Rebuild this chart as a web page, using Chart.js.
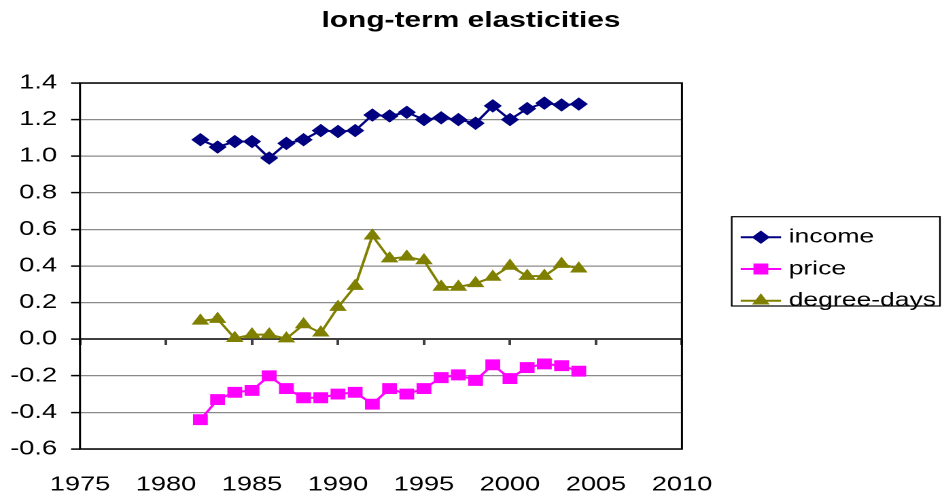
<!DOCTYPE html>
<html>
<head>
<meta charset="utf-8">
<script src="https://cdn.jsdelivr.net/npm/chart.js@4"></script>
<style>
  html, body { margin: 0; padding: 0; background: #fff; overflow: hidden; }
  /* the chart is laid out narrow and stretched sideways to its final width */
  #stage { width: 693px; height: 499px; transform: scaleX(1.3593); transform-origin: 0 0; }
</style>
</head>
<body>
<div id="stage"><canvas id="c"></canvas></div>
<script>
// Estimated long-term elasticities by year
const years      = [1982, 1983, 1984, 1985, 1986, 1987, 1988, 1989, 1990, 1991, 1992, 1993,
                    1994, 1995, 1996, 1997, 1998, 1999, 2000, 2001, 2002, 2003, 2004];
const income     = [1.09, 1.05, 1.08, 1.08, 0.99, 1.07, 1.09, 1.14, 1.135, 1.14, 1.225, 1.22,
                    1.24, 1.20, 1.21, 1.20, 1.18, 1.275, 1.20, 1.26, 1.29, 1.28, 1.285];
const price      = [-0.44, -0.33, -0.29, -0.28, -0.20, -0.27, -0.32, -0.32, -0.30, -0.29, -0.355, -0.27,
                    -0.30, -0.27, -0.21, -0.195, -0.225, -0.14, -0.215, -0.155, -0.135, -0.145, -0.175];
const degreeDays = [0.10, 0.11, 0.005, 0.025, 0.025, 0.003, 0.08, 0.035, 0.175, 0.29, 0.565, 0.44,
                    0.45, 0.43, 0.285, 0.285, 0.305, 0.34, 0.40, 0.345, 0.345, 0.41, 0.385];
const seriesNames = ['income', 'price', 'degree-days'];
const titleText = 'long-term elasticities';
const xBounds = [1975, 2010];
const xStep = 5;
const yBounds = [-0.6, 1.4];
const yStep = 0.2;

const FONT = '"Liberation Sans", Arial, Helvetica, sans-serif';

function points(values) {
  return years.map((yr, i) => ({ x: yr, y: values[i] }));
}

function series(label, values, color, style, radius) {
  return {
    label: label,
    data: points(values),
    borderColor: color,
    backgroundColor: color,
    borderWidth: 2,
    pointStyle: style,
    pointRadius: radius,
    pointHoverRadius: radius,
    pointBackgroundColor: color,
    pointBorderColor: color,
    pointBorderWidth: 1,
    tension: 0,
    fill: false
  };
}

// black frame around the plotting area
const plotFrame = {
  id: 'plotFrame',
  beforeDatasetsDraw(chart) {
    const { ctx, chartArea: a } = chart;
    ctx.save();
    ctx.strokeStyle = '#000';
    ctx.lineWidth = 1.5;
    ctx.strokeRect(a.left, a.top, a.right - a.left, a.bottom - a.top);
    ctx.restore();
  }
};

// boxed legend with line-and-marker samples, to the right of the plot
const sideLegend = {
  id: 'sideLegend',
  afterDraw(chart, args, o) {
    const ctx = chart.ctx;
    ctx.save();
    ctx.strokeStyle = '#000';
    ctx.lineWidth = 1.2;
    ctx.strokeRect(o.left, o.top, o.width, o.height);
    chart.data.datasets.forEach((ds, i) => {
      const y = o.firstRow + i * o.rowGap;
      ctx.strokeStyle = ds.borderColor;
      ctx.lineWidth = ds.borderWidth;
      ctx.beginPath();
      ctx.moveTo(o.lineStart, y);
      ctx.lineTo(o.lineEnd, y);
      ctx.stroke();
      ctx.fillStyle = ds.pointBackgroundColor;
      ctx.strokeStyle = ds.pointBorderColor;
      ctx.lineWidth = ds.pointBorderWidth;
      Chart.helpers.drawPoint(ctx, {
        pointStyle: ds.pointStyle, radius: ds.pointRadius, rotation: 0, borderWidth: ds.pointBorderWidth
      }, (o.lineStart + o.lineEnd) / 2, y);
      ctx.fillStyle = '#000';
      ctx.font = o.fontSize + 'px ' + FONT;
      ctx.textAlign = 'left';
      ctx.textBaseline = 'middle';
      ctx.fillText(ds.label, o.textX, y);
    });
    ctx.restore();
  }
};

new Chart(document.getElementById('c'), {
  type: 'line',
  data: {
    datasets: [
      series(seriesNames[0], income, '#000080', 'rectRot', 6),
      series(seriesNames[1], price, '#FF00FF', 'rect', 7),
      series(seriesNames[2], degreeDays, '#808000', 'triangle', 6.5)
    ]
  },
  options: {
    responsive: true,
    maintainAspectRatio: false,
    devicePixelRatio: 2,
    animation: false,
    events: [],
    layout: { padding: 0 },
    scales: {
      x: {
        type: 'linear',
        position: 'bottom',
        min: xBounds[0],
        max: xBounds[1],
        grid: { display: false, drawTicks: false },
        border: { display: false },
        ticks: {
          stepSize: xStep,
          padding: 24,
          color: '#000',
          font: { family: FONT, size: 20 },
          callback: v => String(v)
        },
        afterFit(scale) { scale.height = 50; }
      },
      xZero: {
        type: 'linear',
        axis: 'x',
        position: { y: 0 },
        min: xBounds[0],
        max: xBounds[1],
        grid: { drawOnChartArea: false, drawTicks: true, tickLength: 5, tickColor: '#404040', tickWidth: 2 },
        border: { display: true, color: '#404040', width: 2 },
        ticks: { display: false, stepSize: xStep }
      },
      y: {
        type: 'linear',
        position: 'left',
        min: yBounds[0],
        max: yBounds[1],
        grid: { color: '#8a8a8a', lineWidth: 1.2, tickLength: 6.6, tickColor: '#000', tickWidth: 1.5, z: -1 },
        border: { display: false },
        ticks: {
          stepSize: yStep,
          padding: 10.3,
          color: '#000',
          font: { family: FONT, size: 20 },
          callback: v => Number(v).toFixed(1)
        },
        afterFit(scale) { scale.width = 58.85; }
      },
      // empty right-hand column that holds the legend
      legendColumn: {
        type: 'linear',
        axis: 'y',
        position: 'right',
        grid: { display: false, drawTicks: false },
        border: { display: false },
        ticks: { display: false },
        afterFit(scale) { scale.width = 191.3; }
      }
    },
    plugins: {
      legend: { display: false },
      tooltip: { enabled: false },
      title: {
        display: true,
        text: titleText,
        color: '#000',
        font: { family: FONT, size: 22, weight: 'bold', lineHeight: 1.2 },
        padding: { top: 7.8, bottom: 48.8 }
      },
      sideLegend: {
        left: 538.3, top: 216.7, width: 153.2, height: 89.3,
        firstRow: 237.2, rowGap: 31.8,
        lineStart: 544.9, lineEnd: 574.6, textX: 580.2, fontSize: 19.5
      }
    }
  },
  plugins: [plotFrame, sideLegend]
});
</script>
</body>
</html>
